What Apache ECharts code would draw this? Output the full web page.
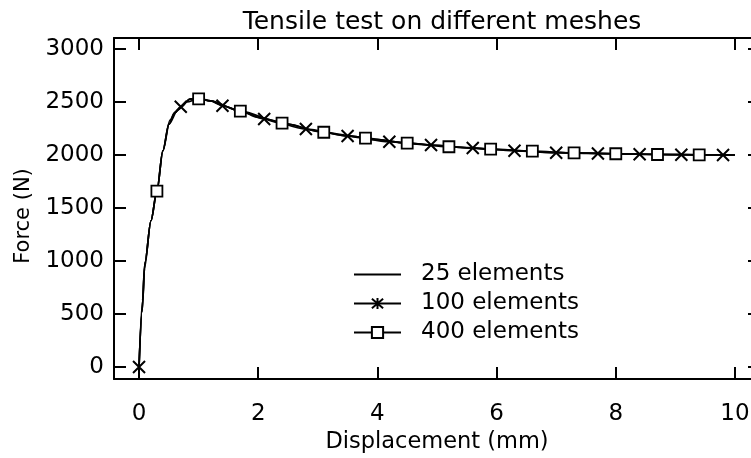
<!DOCTYPE html>
<html>
<head>
<meta charset="utf-8">
<script src="https://cdn.jsdelivr.net/npm/echarts@6/dist/echarts.min.js"></script>
<style>
html,body{margin:0;padding:0;background:#fff;}
#chart{width:751px;height:458px;}
</style>
</head>
<body>
<div id="chart"></div>
<script>
const titleText = 'Tensile test on different meshes';
const xTicks = [0, 2, 4, 6, 8, 10];
const yTicks = [0, 500, 1000, 1500, 2000, 2500, 3000];
const seriesNames = ['25 elements', '100 elements', '400 elements'];

const disp25 = [0,0.05,0.1,0.2,0.3,0.4,0.5,0.6,0.7,0.85,1.0,1.2,1.4,1.7,2.0,2.5,3.0,3.5,4.0,4.5,5.0,5.5,6.0,7.0,8.0,9.0,10.0];
const force25 = [0,520,990,1380,1660,2040,2290,2400,2450,2525,2535,2510,2465,2415,2355,2290,2225,2180,2145,2113,2090,2070,2052,2022,2012,2003,2000];

const disp100 = [0,0.06,0.09,0.2,0.3,0.4,0.52,0.6,0.7,0.86,1.0,1.2,1.4,1.7,2.1,2.8,3.5,4.2,4.9,5.6,6.3,7.0,7.7,8.4,9.1,9.8,10.0];
const force100 = [0,630,930,1380,1660,2040,2330,2400,2455,2530,2535,2510,2465,2415,2340,2245,2180,2125,2094,2066,2040,2022,2015,2008,2003,2000,2000];
const marks100 = [0,0.7,1.4,2.1,2.8,3.5,4.2,4.9,5.6,6.3,7.0,7.7,8.4,9.1,9.8];

const disp400 = [0,0.05,0.1,0.2,0.3,0.4,0.5,0.65,0.8,1.0,1.2,1.7,2.4,3.1,3.8,4.5,5.2,5.9,6.6,7.3,8.0,8.7,9.4,10.0];
const force400 = [0,520,990,1380,1660,2040,2290,2425,2500,2530,2510,2415,2300,2215,2160,2113,2078,2055,2036,2020,2012,2005,2001,2000];
const marks400 = [0.3,1.0,1.7,2.4,3.1,3.8,4.5,5.2,5.9,6.6,7.3,8.0,8.7,9.4];

const FONT = '"DejaVu Sans", Verdana, sans-serif';
const CROSS = 'path://M0,0L10,10M10,0L0,10';
const STAR = 'path://M0,0L10,10M10,0L0,10M5,-1L5,11';

function build(xs, ys, marks, sym) {
  return xs.map((x, i) => {
    const item = { value: [x, ys[i]] };
    item.symbol = (marks && marks.includes(x)) ? sym : 'none';
    return item;
  });
}

const chart = echarts.init(document.getElementById('chart'), null, { renderer: 'canvas' });
const axisLineStyle = { color: '#000', width: 2 };
const labelFmt = v => String(v);
const option = {
  animation: false,
  backgroundColor: '#fff',
  title: {
    text: titleText, left: 437, top: 5, textAlign: 'center',
    textStyle: { fontFamily: FONT, fontSize: 25, fontWeight: 'normal', color: '#000' }
  },
  legend: {
    left: 353, top: 263, orient: 'vertical', padding: 0,
    itemWidth: 47, itemHeight: 14, itemGap: 6,
    textStyle: { fontFamily: FONT, fontSize: 23, color: '#000', padding: [0, 0, 0, 15], lineHeight: 23 },
    data: [
      { name: seriesNames[0], itemStyle: { opacity: 0 } },
      { name: seriesNames[1] },
      { name: seriesNames[2] }
    ]
  },
  grid: { left: 114, top: 38, width: 646, height: 341, containLabel: false, outerBoundsMode: 'none' },
  xAxis: [
    {
      type: 'value', min: -0.42, max: 10.42, position: 'bottom',
      name: 'Displacement (mm)', nameLocation: 'middle', nameGap: 44,
      nameTextStyle: { fontFamily: FONT, fontSize: 22.5, color: '#000' },
      axisLine: { show: true, onZero: false, lineStyle: axisLineStyle },
      axisTick: { show: true, inside: true, length: 12, lineStyle: axisLineStyle, customValues: xTicks },
      axisLabel: { show: true, margin: 24, fontFamily: FONT, fontSize: 23, color: '#000', customValues: xTicks, formatter: labelFmt },
      splitLine: { show: false }
    },
    {
      type: 'value', min: -0.42, max: 10.42, position: 'top',
      axisLine: { show: true, onZero: false, lineStyle: axisLineStyle },
      axisTick: { show: true, inside: true, length: 12, lineStyle: axisLineStyle, customValues: xTicks },
      axisLabel: { show: false },
      splitLine: { show: false }
    }
  ],
  yAxis: [
    {
      type: 'value', min: -113, max: 3104, position: 'left',
      name: 'Force (N)', nameLocation: 'middle', nameGap: 80,
      nameTextStyle: { fontFamily: FONT, fontSize: 21, color: '#000', padding: [0, 15, 0, 0] },
      axisLine: { show: true, onZero: false, lineStyle: axisLineStyle },
      axisTick: { show: true, inside: true, length: 12, lineStyle: axisLineStyle, customValues: yTicks },
      axisLabel: { show: true, margin: 10, fontFamily: FONT, fontSize: 23, color: '#000', customValues: yTicks, formatter: labelFmt },
      splitLine: { show: false }
    },
    {
      type: 'value', min: -113, max: 3104, position: 'right',
      axisLine: { show: true, onZero: false, lineStyle: axisLineStyle },
      axisTick: { show: true, inside: true, length: 12, lineStyle: axisLineStyle, customValues: yTicks },
      axisLabel: { show: false },
      splitLine: { show: false }
    }
  ],
  series: [
    {
      name: seriesNames[0], type: 'line', xAxisIndex: 0, yAxisIndex: 0,
      data: build(disp25, force25, null, 'none'),
      symbol: 'none', showSymbol: false, smooth: 0.3, smoothMonotone: 'x',
      lineStyle: { color: '#000', width: 1.7 }, itemStyle: { color: '#000' }, z: 2
    },
    {
      name: seriesNames[1], type: 'line', xAxisIndex: 0, yAxisIndex: 0,
      data: build(disp100, force100, marks100, CROSS),
      symbol: STAR, symbolSize: 12, showSymbol: true, showAllSymbol: true,
      smooth: 0.3, smoothMonotone: 'x',
      lineStyle: { color: '#000', width: 1.7 },
      itemStyle: { color: '#000', borderColor: '#000', borderWidth: 2 }, z: 3
    },
    {
      name: seriesNames[2], type: 'line', xAxisIndex: 0, yAxisIndex: 0,
      data: build(disp400, force400, marks400, 'rect'),
      symbol: 'rect', symbolSize: 11, showSymbol: true, showAllSymbol: true,
      smooth: 0.3, smoothMonotone: 'x',
      lineStyle: { color: '#000', width: 1.7 },
      itemStyle: { color: '#fff', borderColor: '#000', borderWidth: 1.8 }, z: 4
    }
  ]
};
chart.setOption(option);
</script>
</body>
</html>
